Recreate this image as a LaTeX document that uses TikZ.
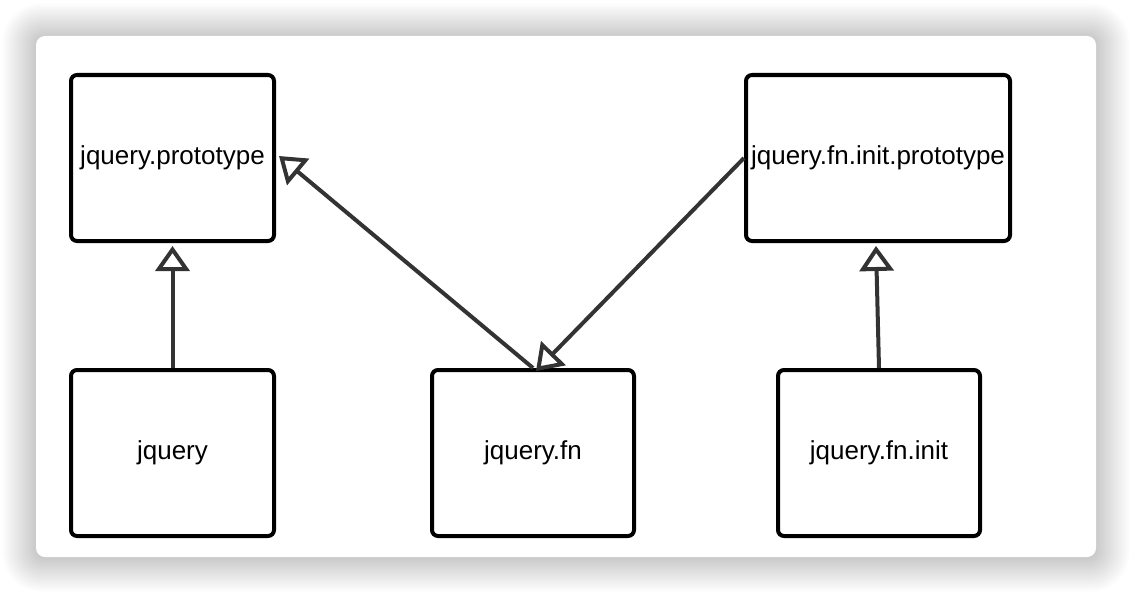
\documentclass[tikz,border=0pt]{standalone}
\usepackage{fontspec}
\setmainfont{Liberation Sans}
\usetikzlibrary{arrows.meta}
\definecolor{linegray}{HTML}{333333}
\begin{document}
\begin{tikzpicture}[x=1pt,y=-1pt,
  box/.style={draw=black, line width=4pt, rounded corners=6pt, fill=white,
    minimum height=166pt, inner sep=0pt, font=\fontsize{26}{31}\selectfont},
  inherit/.style={draw=linegray, line width=4pt,
    -{Triangle[open, length=25pt, width=34pt, fill=white]}}]
\useasboundingbox (0,0) rectangle (1132,594);
\fill[white] (0,0) rectangle (1132,594);
% shadow
\foreach \i in {1,...,26}{
  \fill[black, opacity=0.008, rounded corners={8pt+\i*1.2pt}]
    (36-\i*1.3, 37-\i*1.3) rectangle (1096+\i*1.3, 558+\i*1.3);
}
\fill[white, rounded corners=9pt] (36,36) rectangle (1096,557);
% nodes
\node[box, minimum width=203pt] (jqp) at (172.5,158) {jquery.prototype};
\node[box, minimum width=264pt] (jfip) at (878,158) {jquery.fn.init.prototype};
\node[box, minimum width=203pt] (jq) at (172.5,453) {jquery};
\node[box, minimum width=202pt] (jfn) at (533,453) {jquery.fn};
\node[box, minimum width=202pt] (jfi) at (879,453) {jquery.fn.init};
% connectors
\draw[inherit] (jq.north) -- ([yshift=-3pt]jqp.south);
\draw[inherit] (jfn.north) -- ([xshift=3pt,yshift=2pt]jqp.east);
\draw[inherit] (jfip.west) -- ([xshift=3pt,yshift=-3pt]jfn.north);
\draw[inherit] (jfi.north) -- ([xshift=-2pt,yshift=-3pt]jfip.south);
\end{tikzpicture}
\end{document}
